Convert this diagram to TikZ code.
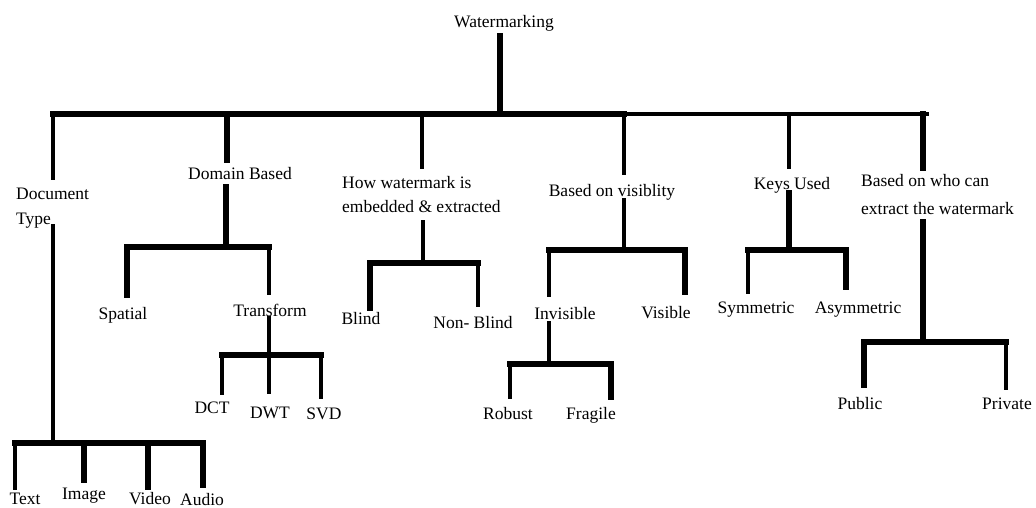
\documentclass[tikz,border=0pt]{standalone}
\usepackage{fontspec}
\setmainfont{Liberation Serif}
\begin{document}
\begin{tikzpicture}[x=1pt,y=-1pt,
  lbl/.style={inner sep=0pt, anchor=base, font=\fontsize{17.5}{25}\selectfont},
  mlbl/.style={lbl, anchor=base west, align=left},
  wA/.style={line width=3.5pt, line cap=rect},
  wB/.style={line width=4.5pt, line cap=rect},
  wC/.style={line width=5.5pt, line cap=rect}]
\useasboundingbox (0,0) rectangle (1036,507);
% labels
\node[lbl] (root) at (504,27) {Watermarking};
\node[mlbl] (doc) at (16,224) {Document\\Type};
\node[lbl] (dom) at (240,179) {Domain Based};
\node[mlbl,font=\fontsize{17.5}{24}\selectfont] (how) at (342,212) {How watermark is\\embedded \& extracted};
\node[lbl] (vis) at (612,196) {Based on visiblity};
\node[lbl] (key) at (792,189) {Keys Used};
\node[mlbl,font=\fontsize{17.5}{28}\selectfont] (who) at (861,214) {Based on who can\\extract the watermark};
\node[lbl] (spa) at (123,319) {Spatial};
\node[lbl] (tra) at (270,316) {Transform};
\node[lbl] (dct) at (212,413) {DCT};
\node[lbl] (dwt) at (270,418) {DWT};
\node[lbl] (svd) at (324,419) {SVD};
\node[lbl] (txt) at (25,504) {Text};
\node[lbl] (img) at (84,499) {Image};
\node[lbl] (vid) at (150,504) {Video};
\node[lbl] (aud) at (202,505) {Audio};
\node[lbl] (bli) at (361,324) {Blind};
\node[lbl] (nbl) at (473,328) {Non- Blind};
\node[lbl] (inv) at (565,319) {Invisible};
\node[lbl] (vsb) at (666,318) {Visible};
\node[lbl] (rob) at (508,419) {Robust};
\node[lbl] (fra) at (591,419) {Fragile};
\node[lbl] (sym) at (756,313) {Symmetric};
\node[lbl] (asy) at (858,313) {Asymmetric};
\node[lbl] (pub) at (860,409) {Public};
\node[lbl] (pri) at (1007,409) {Private};
% main bus
\draw[wC] (500,36) -- (500,114);
\draw[wC] (53,114) -- (624,114);
\draw[wB] (624,114) -- (927,114);
\draw[wB] (53,114) -- (53,178);
\draw[wC] (227,114) -- (227,160);
\draw[wA] (422,114) -- (422,167);
\draw[wB] (624,114) -- (624,173);
\draw[wB] (789,114) -- (789,167);
\draw[wC] (923,114) -- (923,168);
% Document type
\draw[wA] (53,226) -- (53,443);
\draw[wC] (15,443) -- (203,443);
\draw[wB] (15,443) -- (15,488);
\draw[wC] (84,443) -- (84,480);
\draw[wC] (148,443) -- (148,487);
\draw[wC] (203,443) -- (203,485);
% Domain based
\draw[wC] (226,187) -- (226,247);
\draw[wC] (127,247) -- (269,247);
\draw[wC] (127,247) -- (127,295);
\draw[wA] (269,247) -- (269,293);
\draw[wA] (269,318) -- (269,355);
\draw[wC] (222,355) -- (321,355);
\draw[wA] (222,355) -- (222,393);
\draw[wA] (269,355) -- (269,392);
\draw[wA] (321,355) -- (321,397);
% How watermark
\draw[wA] (423,222) -- (423,263);
\draw[wC] (370,263) -- (478,263);
\draw[wC] (370,263) -- (370,308);
\draw[wB] (478,263) -- (478,305);
% Visibility
\draw[wB] (624,200) -- (624,250);
\draw[wC] (549,250) -- (685,250);
\draw[wB] (549,250) -- (549,295);
\draw[wC] (685,250) -- (685,292);
\draw[wB] (549,323) -- (549,364);
\draw[wC] (510,364) -- (611,364);
\draw[wB] (510,364) -- (510,397);
\draw[wC] (611,364) -- (611,397);
% Keys used
\draw[wC] (789,193) -- (789,250);
\draw[wC] (748,250) -- (846,250);
\draw[wB] (748,250) -- (748,292);
\draw[wC] (846,250) -- (846,287);
% Who can extract
\draw[wC] (923,222) -- (923,342);
\draw[wC] (864,342) -- (1006,342);
\draw[wC] (864,342) -- (864,385);
\draw[wB] (1006,342) -- (1006,388);
\end{tikzpicture}
\end{document}
